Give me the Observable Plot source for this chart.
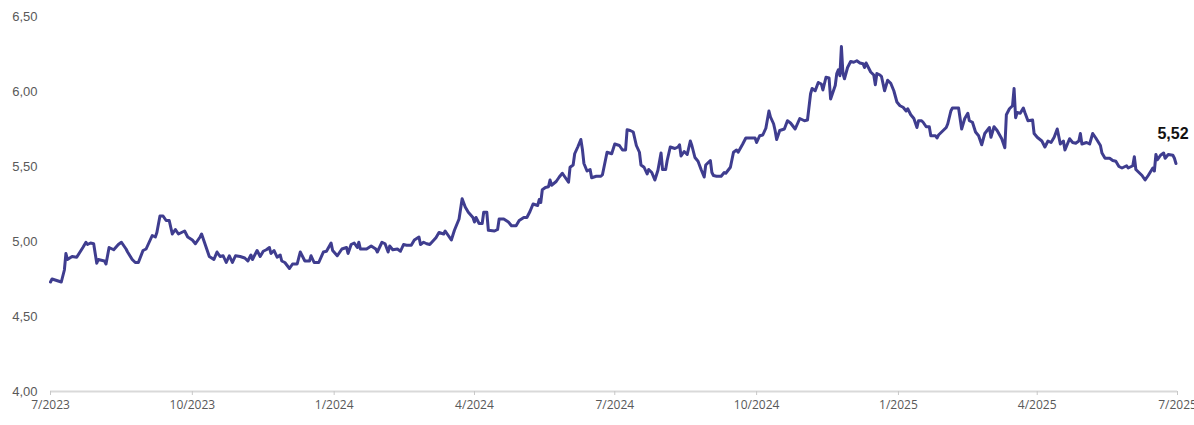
<!DOCTYPE html>
<html>
<head>
<meta charset="utf-8">
<script src="https://cdn.jsdelivr.net/npm/d3@7"></script>
<script src="https://cdn.jsdelivr.net/npm/@observablehq/plot@0.6"></script>
<style>
  html, body { margin: 0; padding: 0; background: #fff; }
  #chart { width: 1194px; height: 425px; overflow: hidden; }
</style>
</head>
<body>
<div id="chart"></div>
<script>
const dates = [
"2023-07-01","2023-07-02","2023-07-05","2023-07-08","2023-07-10","2023-07-11","2023-07-12","2023-07-15","2023-07-18","2023-07-22",
"2023-07-24","2023-07-25","2023-07-27","2023-07-29","2023-07-31","2023-08-01","2023-08-05","2023-08-06","2023-08-08","2023-08-11",
"2023-08-14","2023-08-16","2023-08-19","2023-08-20","2023-08-23","2023-08-25","2023-08-27","2023-08-30","2023-09-01","2023-09-03",
"2023-09-05","2023-09-07","2023-09-08","2023-09-10","2023-09-12","2023-09-14","2023-09-16","2023-09-18","2023-09-20","2023-09-22",
"2023-09-26","2023-09-28","2023-10-01","2023-10-03","2023-10-06","2023-10-07","2023-10-10","2023-10-12","2023-10-15","2023-10-17",
"2023-10-19","2023-10-21","2023-10-23","2023-10-25","2023-10-27","2023-10-29","2023-11-01","2023-11-04","2023-11-06","2023-11-08",
"2023-11-09","2023-11-12","2023-11-14","2023-11-16","2023-11-18","2023-11-20","2023-11-21","2023-11-23","2023-11-25","2023-11-27",
"2023-11-28","2023-11-30","2023-12-03","2023-12-05","2023-12-08","2023-12-10","2023-12-13","2023-12-16","2023-12-17","2023-12-19",
"2023-12-22","2023-12-25","2023-12-27","2023-12-30","2023-12-31","2024-01-03","2024-01-06","2024-01-09","2024-01-10","2024-01-12",
"2024-01-14","2024-01-16","2024-01-17","2024-01-18","2024-01-22","2024-01-25","2024-01-28","2024-01-29","2024-02-01","2024-02-03",
"2024-02-05","2024-02-06","2024-02-08","2024-02-11","2024-02-13","2024-02-15","2024-02-17","2024-02-20","2024-02-22","2024-02-25",
"2024-02-26","2024-02-28","2024-03-01","2024-03-03","2024-03-07","2024-03-09","2024-03-12","2024-03-13","2024-03-15","2024-03-17",
"2024-03-19","2024-03-22","2024-03-24","2024-03-26","2024-03-28","2024-03-31","2024-04-01","2024-04-02","2024-04-04","2024-04-06",
"2024-04-07","2024-04-09","2024-04-10","2024-04-14","2024-04-16","2024-04-17","2024-04-20","2024-04-23","2024-04-25","2024-04-28",
"2024-04-30","2024-05-03","2024-05-05","2024-05-07","2024-05-09","2024-05-12","2024-05-13","2024-05-14","2024-05-15","2024-05-17",
"2024-05-19","2024-05-20","2024-05-21","2024-05-24","2024-05-26","2024-05-28","2024-05-30","2024-06-01","2024-06-02","2024-06-04",
"2024-06-05","2024-06-07","2024-06-09","2024-06-10","2024-06-11","2024-06-13","2024-06-15","2024-06-16","2024-06-19","2024-06-22",
"2024-06-23","2024-06-26","2024-06-29","2024-07-01","2024-07-04","2024-07-06","2024-07-08","2024-07-09","2024-07-11","2024-07-13",
"2024-07-15","2024-07-17","2024-07-18","2024-07-20","2024-07-22","2024-07-23","2024-07-25","2024-07-27","2024-07-29","2024-07-31",
"2024-08-01","2024-08-03","2024-08-04","2024-08-06","2024-08-09","2024-08-11","2024-08-12","2024-08-13","2024-08-15","2024-08-17",
"2024-08-19","2024-08-20","2024-08-22","2024-08-24","2024-08-26","2024-08-28","2024-08-29","2024-09-01","2024-09-02","2024-09-03",
"2024-09-05","2024-09-08","2024-09-10","2024-09-11","2024-09-14","2024-09-16","2024-09-18","2024-09-19","2024-09-22","2024-09-24",
"2024-09-27","2024-09-30","2024-10-01","2024-10-03","2024-10-05","2024-10-07","2024-10-09","2024-10-10","2024-10-12","2024-10-13",
"2024-10-14","2024-10-16","2024-10-19","2024-10-21","2024-10-23","2024-10-26","2024-10-29","2024-11-01","2024-11-03","2024-11-05",
"2024-11-06","2024-11-08","2024-11-10","2024-11-12","2024-11-13","2024-11-15","2024-11-17","2024-11-18","2024-11-21","2024-11-22",
"2024-11-23","2024-11-24","2024-11-25","2024-11-26","2024-11-27","2024-11-29","2024-12-01","2024-12-03","2024-12-05","2024-12-07",
"2024-12-09","2024-12-10","2024-12-11","2024-12-13","2024-12-14","2024-12-16","2024-12-17","2024-12-18","2024-12-20","2024-12-21",
"2024-12-23","2024-12-25","2024-12-27","2024-12-29","2024-12-31","2025-01-02","2025-01-04","2025-01-06","2025-01-07","2025-01-09",
"2025-01-11","2025-01-13","2025-01-14","2025-01-16","2025-01-17","2025-01-19","2025-01-21","2025-01-22","2025-01-25","2025-01-26",
"2025-01-27","2025-01-29","2025-02-01","2025-02-02","2025-02-04","2025-02-05","2025-02-09","2025-02-11","2025-02-13","2025-02-15",
"2025-02-16","2025-02-18","2025-02-20","2025-02-22","2025-02-24","2025-02-26","2025-03-01","2025-03-02","2025-03-04","2025-03-06",
"2025-03-09","2025-03-11","2025-03-12","2025-03-14","2025-03-16","2025-03-17","2025-03-18","2025-03-19","2025-03-21","2025-03-23",
"2025-03-24","2025-03-26","2025-03-29","2025-03-30","2025-04-01","2025-04-04","2025-04-06","2025-04-08","2025-04-10","2025-04-12",
"2025-04-14","2025-04-16","2025-04-18","2025-04-19","2025-04-22","2025-04-24","2025-04-26","2025-04-28","2025-04-29","2025-04-30",
"2025-05-03","2025-05-05","2025-05-06","2025-05-07","2025-05-09","2025-05-12","2025-05-13","2025-05-15","2025-05-18","2025-05-20",
"2025-05-22","2025-05-24","2025-05-26","2025-05-29","2025-05-30","2025-06-02","2025-06-03","2025-06-04","2025-06-06","2025-06-08",
"2025-06-10","2025-06-12","2025-06-15","2025-06-16","2025-06-17","2025-06-18","2025-06-20","2025-06-22","2025-06-23","2025-06-25",
"2025-06-28","2025-06-29","2025-06-30"
];
const values = [
4.73,4.75,4.74,4.73,4.81,4.92,4.88,4.90,4.895,4.96,
4.995,4.98,4.99,4.985,4.855,4.88,4.87,4.85,4.96,4.945,
4.98,4.995,4.95,4.93,4.88,4.86,4.86,4.94,4.95,4.995,
5.04,5.03,5.06,5.17,5.17,5.14,5.14,5.05,5.08,5.05,
5.07,5.03,5.01,4.985,5.03,5.05,4.96,4.90,4.88,4.93,
4.90,4.905,4.86,4.905,4.86,4.905,4.90,4.89,4.87,4.91,
4.88,4.94,4.90,4.935,4.945,4.96,4.92,4.94,4.895,4.91,
4.87,4.86,4.82,4.85,4.85,4.93,4.87,4.87,4.905,4.86,
4.86,4.93,4.935,4.99,4.94,4.905,4.95,4.96,4.92,4.98,
4.99,4.96,4.995,4.95,4.95,4.97,4.95,4.93,4.995,4.985,
4.93,4.97,4.945,4.95,4.935,4.98,4.975,4.975,5.01,5.03,
4.98,4.995,4.985,4.98,5.025,5.06,5.05,5.07,5.04,5.01,
5.075,5.15,5.285,5.23,5.195,5.16,5.13,5.16,5.12,5.12,
5.195,5.195,5.075,5.07,5.08,5.15,5.15,5.13,5.105,5.105,
5.14,5.16,5.16,5.20,5.25,5.24,5.28,5.26,5.345,5.36,
5.365,5.41,5.375,5.40,5.43,5.455,5.425,5.395,5.495,5.51,
5.585,5.63,5.68,5.615,5.52,5.47,5.48,5.425,5.435,5.435,
5.445,5.595,5.585,5.65,5.64,5.61,5.61,5.745,5.74,5.73,
5.64,5.595,5.51,5.495,5.45,5.48,5.46,5.41,5.475,5.59,
5.48,5.48,5.54,5.63,5.62,5.63,5.645,5.57,5.60,5.58,
5.67,5.64,5.56,5.535,5.48,5.43,5.51,5.54,5.46,5.44,
5.435,5.435,5.46,5.455,5.495,5.595,5.61,5.595,5.65,5.69,
5.69,5.69,5.66,5.705,5.71,5.755,5.87,5.83,5.785,5.74,
5.68,5.74,5.75,5.805,5.79,5.75,5.82,5.805,5.81,5.985,
6.02,6.005,6.06,6.05,6.01,6.095,6.09,5.95,6.04,6.12,
6.145,6.105,6.30,6.12,6.085,6.16,6.20,6.195,6.205,6.19,
6.185,6.16,6.19,6.15,6.13,6.11,6.045,6.12,6.11,6.10,
6.005,6.075,6.055,6.005,5.93,5.905,5.895,5.87,5.885,5.845,
5.82,5.76,5.805,5.805,5.795,5.765,5.765,5.705,5.705,5.69,
5.71,5.73,5.76,5.785,5.87,5.89,5.89,5.75,5.82,5.855,
5.805,5.795,5.73,5.705,5.645,5.72,5.76,5.695,5.765,5.74,
5.685,5.625,5.845,5.885,5.905,6.02,5.825,5.86,5.855,5.89,
5.86,5.805,5.81,5.72,5.695,5.67,5.63,5.67,5.66,5.695,
5.75,5.65,5.67,5.61,5.685,5.66,5.655,5.67,5.72,5.65,
5.66,5.65,5.685,5.72,5.69,5.64,5.59,5.555,5.555,5.54,
5.535,5.50,5.49,5.505,5.49,5.505,5.565,5.48,5.46,5.44,
5.41,5.44,5.49,5.47,5.58,5.545,5.575,5.59,5.555,5.58,
5.575,5.555,5.52
];
const yTicks = [4.0, 4.5, 5.0, 5.5, 6.0, 6.5];
const xTicks = ["2023-07-01","2023-10-01","2024-01-01","2024-04-01","2024-07-01","2024-10-01","2025-01-01","2025-04-01","2025-07-01"];
const lastLabel = "5,52";

const data = dates.map((d, i) => ({date: new Date(d + "T00:00:00Z"), value: values[i]}));
const last = data[data.length - 1];

const fmtNum = d => d.toFixed(2).replace(".", ",");
const fmtDate = d3.utcFormat("%-m/%Y");

const chart = Plot.plot({
  width: 1194,
  height: 425,
  marginLeft: 50,
  marginRight: 17,
  marginTop: 16,
  marginBottom: 34,
  style: {background: "#fff", overflow: "visible"},
  x: {type: "utc", domain: [new Date("2023-07-01T00:00:00Z"), new Date("2025-07-01T00:00:00Z")]},
  y: {domain: [4, 6.5]},
  marks: [
    Plot.ruleY([4], {stroke: "#d9d9d9", strokeWidth: 2}),
    Plot.axisY({ticks: yTicks, tickFormat: fmtNum, tickSize: 0, tickPadding: 13, fontSize: 13, fill: "#595959", fontFamily: "Liberation Sans, Arial, sans-serif", label: null}),
    Plot.axisX({ticks: xTicks.map(d => new Date(d + "T00:00:00Z")), tickFormat: fmtDate, tickSize: 4, tickPadding: 5, stroke: "#c8c8c8", fill: "#595959", fontSize: 12, fontFamily: "Open Sans, sans-serif", label: null}),
    Plot.line(data, {x: "date", y: "value", stroke: "#3f3d8f", strokeWidth: 3, strokeLinejoin: "round"}),
    Plot.text([last], {x: "date", y: "value", text: () => lastLabel, dy: -30, dx: -3, fontSize: 16, fontWeight: "bold", fill: "#111", fontFamily: "Liberation Sans, Arial, sans-serif"})
  ]
});
document.getElementById("chart").appendChild(chart);
</script>
</body>
</html>
